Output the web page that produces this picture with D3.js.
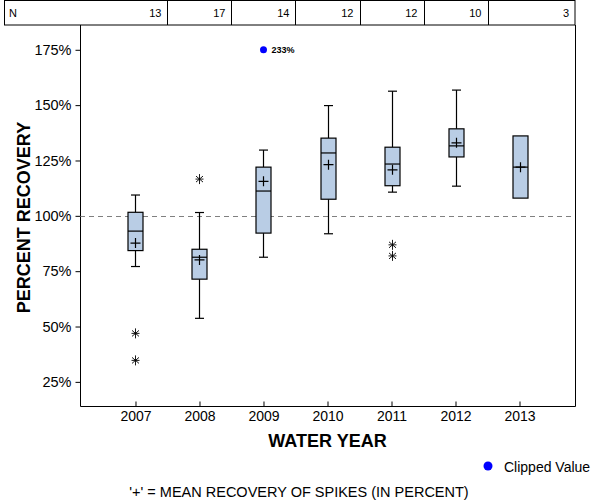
<!DOCTYPE html>
<html><head><meta charset="utf-8">
<script src="https://cdn.jsdelivr.net/npm/d3@7"></script>
<style>body{margin:0;background:#fff;} text{font-family:Arial,"Liberation Sans",sans-serif;}</style>
</head><body>
<svg id="c" width="600" height="500"></svg>
<script>
const years = ["2007","2008","2009","2010","2011","2012","2013"];
const counts = [13,17,14,12,12,10,3];
const whiskerLow  = [77.1, 53.7, 81.3, 91.9, 110.7, 113.4, 108.0];
const q1          = [84.3, 71.4, 92.2, 107.5, 113.6, 126.6, 108.0];
const medians     = [93.1, 81.3, 111.2, 128.4, 123.4, 131.6, 122.0];
const q3          = [101.6, 84.9, 122.0, 135.1, 131.0, 139.3, 136.1];
const whiskerHigh = [109.4, 101.5, 129.7, 149.8, 156.3, 156.8, 136.1];
const means       = [87.7, 80.1, 115.6, 123.1, 120.8, 133.0, 122.0];
const outlierYears  = ["2007","2007","2008","2011","2011"];
const outlierValues = [46.9, 34.7, 116.6, 86.9, 81.9];
const clippedYears = ["2009"];
const clippedValues = [233];
const clippedPlotted = [175];
const yTicks = [25,50,75,100,125,150,175];
const refLine = 100;

const svg = d3.select("#c");
const L = 80, R = 575, T = 25, B = 406;
const x = d3.scalePoint().domain(years).range([L, R]).padding(0.867);
const y = d3.scaleLinear().domain([14.1, 186.2]).range([B, T]);
const boxColor = "#b9cde5";
const FF = "Arial,'Liberation Sans',sans-serif";

// Table of N
const tbl = svg.append("g");
tbl.append("rect").attr("x",4.5).attr("y",0.5).attr("width",R-4.5).attr("height",T-0.5)
  .attr("fill","none").attr("stroke","#000");
const step = x.step();
years.forEach((yr,i)=>{
  const right = x(yr) + step/2;
  if (i < years.length-1) tbl.append("line").attr("x1",Math.round(right)+0.5).attr("x2",Math.round(right)+0.5)
     .attr("y1",0.5).attr("y2",T).attr("stroke","#000");
  tbl.append("text").attr("x", (i===years.length-1? R : right) - 6).attr("y",17)
    .attr("text-anchor","end").attr("font-size",11).text(counts[i]);
});
tbl.append("text").attr("x",9).attr("y",17).attr("font-size",11).text("N");

// Frame
svg.append("path").attr("d",`M${L+0.5},${T} V${B+0.5} H${R+0.5} V${T}`)
  .attr("fill","none").attr("stroke","#000");

// Reference line
svg.append("line").attr("x1",L).attr("x2",R).attr("y1",Math.round(y(refLine))+0.5).attr("y2",Math.round(y(refLine))+0.5)
  .attr("stroke","#808080").attr("stroke-dasharray","5,4");

// Y axis
const yAxis = svg.append("g").attr("transform",`translate(${L+0.5},0)`)
  .call(d3.axisLeft(y).tickValues(yTicks).tickSize(5).tickFormat(d=>d+"%"));
yAxis.select(".domain").remove();
yAxis.selectAll("text").attr("font-size",14.5).attr("font-family",FF).attr("dx","-1");

// X axis
const xAxis = svg.append("g").attr("transform",`translate(0,${B+0.5})`)
  .call(d3.axisBottom(x).tickSize(-5).tickPadding(5));
xAxis.select(".domain").remove();
xAxis.selectAll("text").attr("font-size",14).attr("font-family",FF);

// Boxes
const bw = 15, cap = 9;
years.forEach((yr,i)=>{
  const cx = Math.round(x(yr)) + 0.5;
  const g = svg.append("g").attr("stroke","#000").attr("stroke-width",1.2);
  if (whiskerHigh[i] > q3[i]) {
    g.append("line").attr("x1",cx).attr("x2",cx).attr("y1",y(whiskerHigh[i])).attr("y2",y(q3[i]));
    g.append("line").attr("x1",cx-cap/2).attr("x2",cx+cap/2).attr("y1",y(whiskerHigh[i])).attr("y2",y(whiskerHigh[i]));
  }
  if (whiskerLow[i] < q1[i]) {
    g.append("line").attr("x1",cx).attr("x2",cx).attr("y1",y(q1[i])).attr("y2",y(whiskerLow[i]));
    g.append("line").attr("x1",cx-cap/2).attr("x2",cx+cap/2).attr("y1",y(whiskerLow[i])).attr("y2",y(whiskerLow[i]));
  }
  g.append("rect").attr("x",cx-bw/2).attr("width",bw).attr("y",y(q3[i])).attr("height",y(q1[i])-y(q3[i]))
    .attr("fill",boxColor);
  g.append("line").attr("x1",cx-bw/2).attr("x2",cx+bw/2).attr("y1",y(medians[i])).attr("y2",y(medians[i]));
  const my = y(means[i]);
  g.append("path").attr("d",`M${cx-5},${my} H${cx+5} M${cx},${my-5} V${my+5}`);
});

// Outliers (asterisk)
outlierYears.forEach((yr,i)=>{
  const cx = Math.round(x(yr)) + 0.5, cy = y(outlierValues[i]);
  svg.append("path").attr("d",`M${cx},${cy-5} V${cy+5} M${cx-4},${cy} H${cx+4} M${cx-3.5},${cy-3} L${cx+3.5},${cy+3} M${cx-3.5},${cy+3} L${cx+3.5},${cy-3}`)
    .attr("stroke","#000").attr("stroke-width",0.9);
});

// Clipped values
clippedYears.forEach((yr,i)=>{
  const cx = x(yr), cy = y(clippedPlotted[i]);
  svg.append("circle").attr("cx",cx).attr("cy",cy).attr("r",3.5).attr("fill","#0000ff");
  svg.append("text").attr("x",cx+8).attr("y",cy+3.5).attr("font-size",9).attr("font-weight","bold").text(clippedValues[i]+"%");
});

// Titles
svg.append("text").attr("transform",`translate(30,${(T+B)/2+2}) rotate(-90)`).attr("text-anchor","middle")
  .attr("font-size",18).attr("font-weight","bold").text("PERCENT RECOVERY");
svg.append("text").attr("x",(L+R)/2).attr("y",447).attr("text-anchor","middle")
  .attr("font-size",18).attr("font-weight","bold").text("WATER YEAR");

// Legend
svg.append("circle").attr("cx",488).attr("cy",466).attr("r",4.5).attr("fill","#0000ff");
svg.append("text").attr("x",504).attr("y",472).attr("font-size",14).text("Clipped Value");

// Footnote
svg.append("text").attr("x",299).attr("y",497).attr("text-anchor","middle").attr("font-size",14.5)
  .text("'+' = MEAN RECOVERY OF SPIKES (IN PERCENT)");
</script>
</body></html>
